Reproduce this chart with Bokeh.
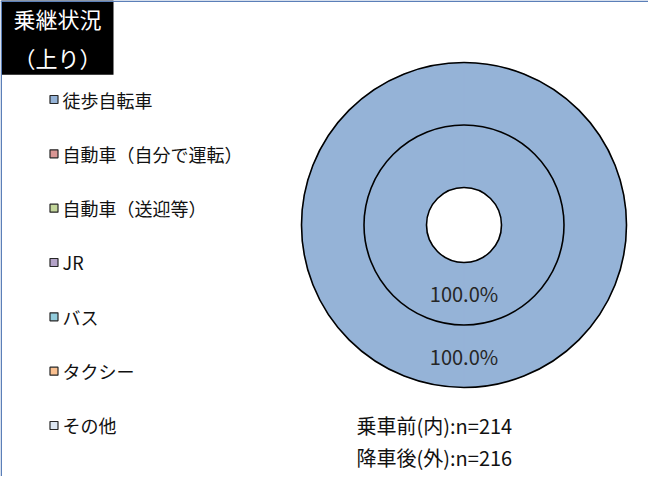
import numpy as np
from bokeh.plotting import figure
from bokeh.models import Range1d, Span, Label, ColumnDataSource
from bokeh.embed import file_html
from bokeh.resources import INLINE
from bokeh.core.properties import value

# ---- data ----
categories = ["徒歩自転車", "自動車（自分で運転）", "自動車（送迎等）", "JR", "バス", "タクシー", "その他"]
colors = ["#95B3D7", "#D99694", "#C3D69B", "#B3A2C7", "#93CDDD", "#FAC090", "#DCE6F2"]
inner_pct = [100.0, 0.0, 0.0, 0.0, 0.0, 0.0, 0.0]   # 乗車前(内)
outer_pct = [100.0, 0.0, 0.0, 0.0, 0.0, 0.0, 0.0]   # 降車後(外)
inner_n = 214
outer_n = 216
title_text = "乗継状況\n（上り）"
note_lines = [f"乗車前(内):n={inner_n}", f"降車後(外):n={outer_n}"]

# ---- layout constants (pixels) ----
W, H = 648, 476
FONT = "Noto Sans CJK JP"
cx, cy = 463.5, H - 224.5
r_hole, r_mid, r_out = 37.5, 100.0, 162.5

p = figure(width=W, height=H, x_range=Range1d(0, W), y_range=Range1d(0, H),
           output_backend="svg", toolbar_location=None,
           x_axis_location=None, y_axis_location=None, min_border=0)
p.grid.visible = False
p.outline_line_color = None
p.background_fill_color = "white"
p.border_fill_color = "white"


def ring(values, r_in, r_o):
    vals = np.array(values, dtype=float)
    total = vals.sum()
    frac = vals / total
    cum = np.concatenate([[0.0], np.cumsum(frac)])
    rows = dict(start=[], end=[], color=[], lx=[], ly=[], lab=[])
    r_lab = (r_in + r_o) / 2
    for i, f in enumerate(frac):
        if f <= 0:
            continue
        a0 = np.pi / 2 - cum[i] * 2 * np.pi
        a1 = np.pi / 2 - cum[i + 1] * 2 * np.pi
        # split in two halves so that a full circle renders in SVG
        am = (a0 + a1) / 2
        for s, e in ((a0, am), (am, a1)):
            rows["start"].append(s)
            rows["end"].append(e)
            rows["color"].append(colors[i])
        rows["lx"].append(cx + r_lab * np.cos(am))
        rows["ly"].append(cy + r_lab * np.sin(am))
        rows["lab"].append(f"{vals[i] / total * 100:.1f}%")
    wsrc = ColumnDataSource(dict(start=rows["start"], end=rows["end"], color=rows["color"]))
    p.annular_wedge(x=cx, y=cy, inner_radius=r_in, outer_radius=r_o,
                    start_angle="start", end_angle="end", direction="clock",
                    fill_color="color", line_color="color", line_width=0.5, source=wsrc)
    n_nonzero = int((frac > 0).sum())
    if n_nonzero > 1:
        ang = [np.pi / 2 - c * 2 * np.pi for c in cum[:-1][frac > 0]]
        p.segment(x0=[cx + r_in * np.cos(a) for a in ang], y0=[cy + r_in * np.sin(a) for a in ang],
                  x1=[cx + r_o * np.cos(a) for a in ang], y1=[cy + r_o * np.sin(a) for a in ang],
                  line_color="black", line_width=1.5)
    return rows


inner_rows = ring(inner_pct, r_hole, r_mid)
outer_rows = ring(outer_pct, r_mid, r_out)

# ring outlines
p.circle(x=[cx, cx, cx], y=[cy, cy, cy], radius=[r_hole, r_mid, r_out],
         fill_color=None, line_color="black", line_width=1.6)

# data labels
for rows in (inner_rows, outer_rows):
    p.text(x=rows["lx"], y=rows["ly"], text=rows["lab"], text_font=value(FONT),
           text_font_size="20px", text_color="#262626",
           text_align="center", text_baseline="middle")

# legend (manual)
leg_y0 = H - 99
leg_step = 54.33
leg_y = [leg_y0 - i * leg_step for i in range(len(categories))]
p.scatter(x=[53.5] * len(categories), y=leg_y, marker="square", size=8,
          fill_color=colors, line_color="#262626", line_width=1.2)
p.text(x=[62] * len(categories), y=leg_y, text=categories, text_font=value(FONT),
       text_font_size="18px", text_color="#111111",
       text_align="left", text_baseline="middle")

# n annotation
p.text(x=[356, 356], y=[H - 425, H - 457], text=note_lines, text_font=value(FONT),
       text_font_size="20px", text_color="#111111",
       text_align="left", text_baseline="middle")

# title box
title = Label(x=57, y=H - 37, text=title_text, text_align="center", text_baseline="middle",
              text_font=FONT, text_font_size="22px", text_color="white",
              text_line_height=1.2,
              background_fill_color="black", padding=(12, 2))
p.add_layout(title)

# chart-area border (top and left edges)
p.add_layout(Span(location=H - 0.75, dimension="width", line_color="#5B7FB8", line_width=1.5))
p.add_layout(Span(location=0.75, dimension="height", line_color="#5B7FB8", line_width=1.5))

open("out.html", "w").write(file_html(p, INLINE))
